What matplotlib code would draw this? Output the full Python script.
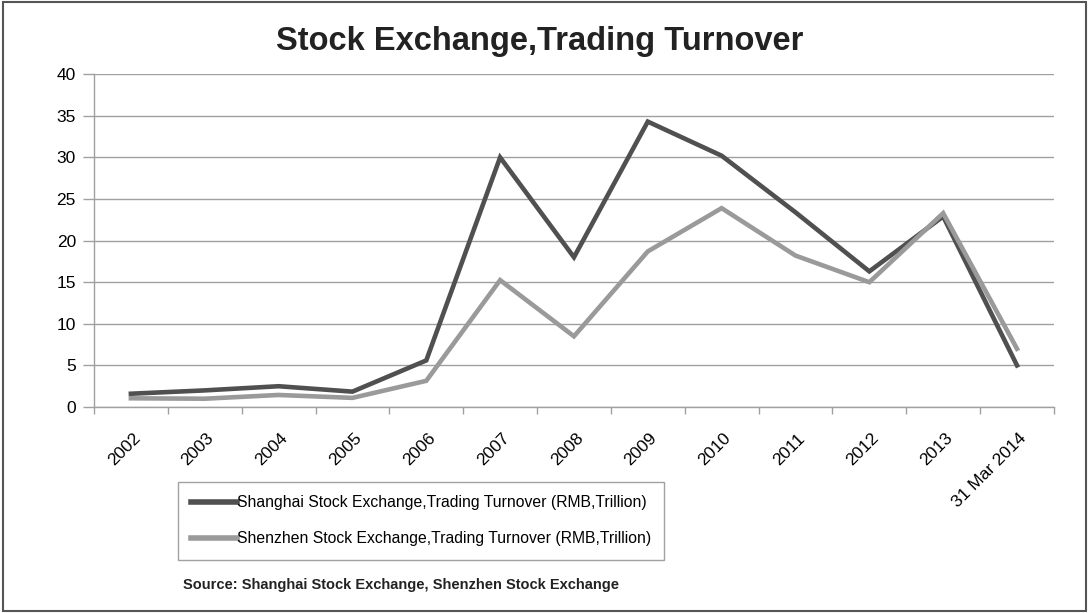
import matplotlib.pyplot as plt
from matplotlib.patches import Rectangle

plt.rcParams['font.family'] = ['Liberation Sans', 'DejaVu Sans']

# categories and series (RMB trillion)
years = ['2002', '2003', '2004', '2005', '2006', '2007', '2008', '2009',
         '2010', '2011', '2012', '2013', '31 Mar 2014']
shanghai = [1.6, 2.0, 2.5, 1.85, 5.6, 30.0, 18.0, 34.3, 30.2, 23.4, 16.3, 22.9, 5.0]
shenzhen = [1.05, 1.0, 1.45, 1.1, 3.15, 15.25, 8.5, 18.7, 23.9, 18.2, 15.0, 23.3, 7.0]

fig = plt.figure(figsize=(10.89, 6.13), dpi=100)
ax = fig.add_axes([0.0863, 0.336, 0.8815, 0.543])

x = list(range(len(years)))
ax.plot(x, shanghai, color='#505050', lw=3.3, solid_joinstyle='miter',
        label='Shanghai Stock Exchange,Trading Turnover (RMB,Trillion)')
ax.plot(x, shenzhen, color='#9a9a9a', lw=3.3, solid_joinstyle='miter',
        label='Shenzhen Stock Exchange,Trading Turnover (RMB,Trillion)')

ax.set_xlim(-0.5, len(years) - 0.5)
ax.set_ylim(0, 40)
ax.set_yticks(range(0, 41, 5))
ax.grid(axis='y', color='#a0a0a0', lw=1)
ax.set_axisbelow(True)

# ticks between categories, labels at centres
ax.set_xticks([i + 0.02 for i in x])
ax.set_xticklabels(years, rotation=45, ha='right', va='top', rotation_mode='anchor',
                   fontsize=12.5)
ax.set_xticks([i - 0.5 for i in range(len(years) + 1)], minor=True)
ax.tick_params(axis='x', which='major', length=0, pad=17)
ax.tick_params(axis='x', which='minor', length=5, color='#a0a0a0', width=1)
ax.tick_params(axis='y', length=8, color='#a0a0a0', width=1, labelsize=12.5, pad=5)

for s in ['top', 'right']:
    ax.spines[s].set_visible(False)
for s in ['left', 'bottom']:
    ax.spines[s].set_color('#a0a0a0')
    ax.spines[s].set_linewidth(1)

fig.text(0.4955, 0.932, 'Stock Exchange,Trading Turnover', ha='center', va='center',
         fontsize=23.5, fontweight='bold', color='#222222')

leg = fig.legend(loc='upper left', bbox_to_anchor=(0.1635, 0.214), fontsize=11.3,
                 handlelength=2.9, handletextpad=0.0, labelspacing=1.35,
                 fancybox=False, edgecolor='#8a8a8a', borderpad=0.85,
                 borderaxespad=0)
leg.get_frame().set_linewidth(1)
for h in leg.get_lines():
    h.set_linewidth(4)

fig.text(0.168, 0.045, 'Source: Shanghai Stock Exchange, Shenzhen Stock Exchange',
         fontsize=10.5, fontweight='bold', va='center', color='#222222')

fig.patches.append(Rectangle((0.003, 0.003), 0.994, 0.994, transform=fig.transFigure,
                             fill=False, edgecolor='#555555', lw=1.5))

fig.savefig('out.png', dpi=100)
